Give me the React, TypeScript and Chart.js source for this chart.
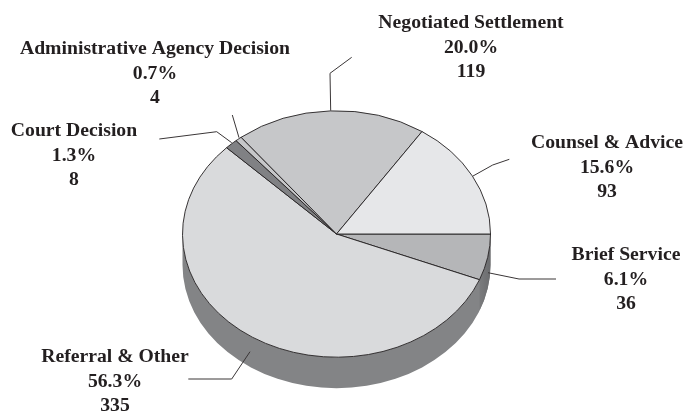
import React, { useEffect, useRef } from "react";
import { Chart, registerables } from "chart.js";

Chart.register(...registerables);

const categories = ["Brief Service", "Referral & Other", "Court Decision", "Administrative Agency Decision", "Negotiated Settlement", "Counsel & Advice"];
const counts = [36, 335, 8, 4, 119, 93];
const percents = ["6.1%", "56.3%", "1.3%", "0.7%", "20.0%", "15.6%"];
const sliceColors = ["#b5b6b8", "#d9dadc", "#808184", "#c6c7c9", "#c6c7c9", "#e6e7e9"];

const labelCenters = [[626, 255], [115, 357], [74, 131], [155, 49], [471, 23], [607, 143]];
const leaders = [
  [[488, 272.7], [519, 279], [556, 279]],
  [[250, 351.7], [231.7, 379], [188.3, 379]],
  [[231.7, 142.7], [216.7, 131.7], [159.3, 139]],
  [[239, 137.7], [232.3, 115]],
  [[330.7, 110.7], [330, 73.3], [351.7, 57.3]],
  [[473, 176], [492.7, 165], [509.3, 159.3]],
];

const SQUASH = 0.8;
const DEPTH = 31;
const INK = "#231f20";
const FONT = 'bold 19.7px "Liberation Serif"';
const LINE_GAP = 24.7;

const piePlugin = {
  id: "pie3d",
  beforeDatasetsDraw(chart: any) {
    const arc = chart.getDatasetMeta(0).data[0];
    const { x, y, outerRadius: r } = arc;
    const ry = r * SQUASH;
    const ctx = chart.ctx;
    const wall = (a0: number, a1: number, fill: any) => {
      ctx.beginPath();
      ctx.ellipse(x, y, r, ry, 0, a0, a1);
      ctx.ellipse(x, y + DEPTH, r, ry, 0, a1, a0, true);
      ctx.closePath();
      ctx.fillStyle = fill;
      ctx.fill();
    };
    wall(0, Math.PI, "#838486");
    const g = ctx.createLinearGradient(x + r * 0.92, 0, x + r, 0);
    g.addColorStop(0, "#7c7d7f");
    g.addColorStop(1, "#6b6c6e");
    const briefEnd = (counts[0] / counts.reduce((a, b) => a + b, 0)) * Math.PI * 2;
    wall(0, briefEnd, g);
    ctx.save();
    ctx.translate(x, y);
    ctx.scale(1, SQUASH);
    ctx.translate(-x, -y);
  },
  afterDatasetsDraw(chart: any) {
    const ctx = chart.ctx;
    ctx.restore();
    ctx.save();
    ctx.strokeStyle = "#3a3637";
    ctx.lineWidth = 1;
    leaders.forEach((pts) => {
      ctx.beginPath();
      pts.forEach(([px, py], i) => (i ? ctx.lineTo(px, py) : ctx.moveTo(px, py)));
      ctx.stroke();
    });
    ctx.fillStyle = INK;
    ctx.font = FONT;
    ctx.textAlign = "center";
    ctx.textBaseline = "middle";
    categories.forEach((name, i) => {
      const [cx, cy] = labelCenters[i];
      ctx.fillText(name, cx, cy);
      ctx.fillText(percents[i], cx, cy + LINE_GAP);
      ctx.fillText(String(counts[i]), cx, cy + LINE_GAP * 2);
    });
    ctx.restore();
  },
};

export default function App() {
  const ref = useRef<HTMLCanvasElement>(null);
  useEffect(() => {
    document.body.style.margin = "0";
    const chart = new Chart(ref.current!, {
      type: "pie",
      data: {
        labels: categories,
        datasets: [{ data: counts, backgroundColor: sliceColors, borderColor: INK, borderWidth: 1 }],
      },
      options: {
        responsive: false,
        animation: false,
        rotation: 90,
        layout: { padding: { left: 182, right: 193, top: 79.5, bottom: 24.5 } },
        plugins: { legend: { display: false }, tooltip: { enabled: false } },
      },
      plugins: [piePlugin],
    } as any);
    return () => chart.destroy();
  }, []);
  return <canvas ref={ref} width={684} height={413} style={{ display: "block" }} />;
}
